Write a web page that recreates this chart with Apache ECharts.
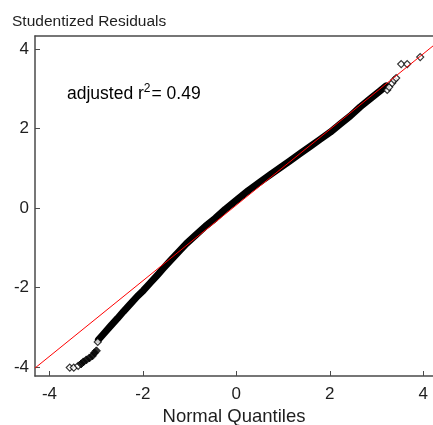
<!DOCTYPE html>
<html>
<head>
<meta charset="utf-8">
<script src="https://cdn.jsdelivr.net/npm/echarts@6/dist/echarts.min.js"></script>
<style>
  html, body { margin: 0; padding: 0; background: #fff; }
  #chart { width: 433px; height: 425px; }
</style>
</head>
<body>
<div id="chart"></div>
<script>
// dense middle of the QQ plot (read along the centre of the black band)
const bandX = [-2.952, -2.824, -2.695, -2.545, -2.417, -2.267, -2.118, -1.989, -1.840, -1.690,
  -1.561, -1.412, -1.241, -1.070, -0.877, -0.663, -0.449, -0.235, 0, 0.257,
  0.513, 0.727, 0.941, 1.155, 1.369, 1.583, 1.797, 2.011, 2.225, 2.439,
  2.652, 2.866, 3.080, 3.209]
const bandY = [-3.318, -3.146, -2.974, -2.781, -2.608, -2.415, -2.222, -2.075, -1.882, -1.689,
  -1.517, -1.324, -1.111, -0.898, -0.689, -0.460, -0.257, -0.028, 0.196, 0.440,
  0.660, 0.838, 1.017, 1.195, 1.374, 1.552, 1.731, 1.909, 2.113, 2.316,
  2.545, 2.749, 2.953, 3.075]

// sparse, open points in both tails
const tailX = [-3.566, -3.480, -3.386, -2.967, 3.230, 3.272, 3.336, 3.379, 3.422, 3.529, 3.658, 3.936]
const tailY = [-4.018, -4.018, -3.975, -3.371, 2.970, 3.044, 3.145, 3.220, 3.270, 3.622, 3.622, 3.799]

// crowded points in the lower tail that print as a dark clump
const clumpX = [-3.322, -3.273, -3.209, -3.144, -3.080, -3.037, -2.995]
const clumpY = [-3.925, -3.874, -3.824, -3.774, -3.723, -3.648, -3.597]

// reference line end points
const fitX = [-4.31, 4.21]
const fitY = [-4.03, 4.08]

const tickValues = [-4, -2, 0, 2, 4]

const chart = echarts.init(document.getElementById('chart'))
const font = 'Liberation Sans, Arial, sans-serif'
const textColor = '#1e1e1e'
const axisColor = '#4a4a4a'

const option = {
  animation: false,
  title: {
    text: 'Studentized Residuals',
    left: 7,
    top: 9,
    textStyle: { fontFamily: font, fontSize: 15.5, fontWeight: 'normal', color: textColor }
  },
  grid: { left: 35, right: 0, top: 36, bottom: 49, containLabel: false, outerBoundsMode: 'none' },
  graphic: [{
    type: 'text',
    left: 67,
    top: 83,
    style: {
      text: '{a|adjusted r}{s|2}{a|= 0.49}',
      rich: {
        a: { fontFamily: font, fontSize: 17.5, color: textColor },
        s: { fontFamily: font, fontSize: 12, color: textColor, padding: [0, 1, 10, 0] }
      }
    }
  }],
  xAxis: [{
    type: 'value',
    min: -4.31,
    max: 4.21,
    position: 'bottom',
    axisLine: { show: true, onZero: false, lineStyle: { color: axisColor, width: 1.5 } },
    axisTick: { show: true, inside: true, length: 5, customValues: tickValues, lineStyle: { color: axisColor } },
    axisLabel: { customValues: tickValues, fontFamily: font, fontSize: 17, color: textColor, margin: 10 },
    splitLine: { show: false },
    name: 'Normal Quantiles',
    nameLocation: 'middle',
    nameGap: 31,
    nameTextStyle: { fontFamily: font, fontSize: 18.5, color: textColor }
  }, {
    type: 'value',
    min: -4.31,
    max: 4.21,
    position: 'top',
    axisLine: { show: true, onZero: false, lineStyle: { color: axisColor, width: 1.5 } },
    axisTick: { show: false },
    axisLabel: { show: false },
    splitLine: { show: false }
  }],
  yAxis: {
    type: 'value',
    min: -4.23,
    max: 4.33,
    axisLine: { show: true, onZero: false, lineStyle: { color: axisColor, width: 1.5 } },
    axisTick: { show: true, inside: true, length: 5, customValues: tickValues, lineStyle: { color: axisColor } },
    axisLabel: { customValues: tickValues, fontFamily: font, fontSize: 17, color: textColor, margin: 6 },
    splitLine: { show: false }
  },
  series: [
    {
      name: 'band',
      type: 'line',
      data: bandX.map((x, i) => [x, bandY[i]]),
      symbol: 'none',
      lineStyle: { color: '#000', width: 7, cap: 'round', join: 'round' },
      z: 2
    },
    {
      name: 'tails',
      type: 'scatter',
      data: tailX.map((x, i) => [x, tailY[i]]),
      symbol: 'diamond',
      symbolSize: 7,
      itemStyle: { color: '#fff', borderColor: '#000', borderWidth: 1.2 },
      z: 3
    },
    {
      name: 'clump',
      type: 'scatter',
      data: clumpX.map((x, i) => [x, clumpY[i]]),
      symbol: 'diamond',
      symbolSize: 8,
      itemStyle: { color: '#000', borderColor: '#000', borderWidth: 1 },
      z: 3
    },
    {
      name: 'fit',
      type: 'line',
      data: fitX.map((x, i) => [x, fitY[i]]),
      symbol: 'none',
      lineStyle: { color: '#ff0000', width: 1 },
      z: 4
    }
  ]
}
chart.setOption(option)
</script>
</body>
</html>
